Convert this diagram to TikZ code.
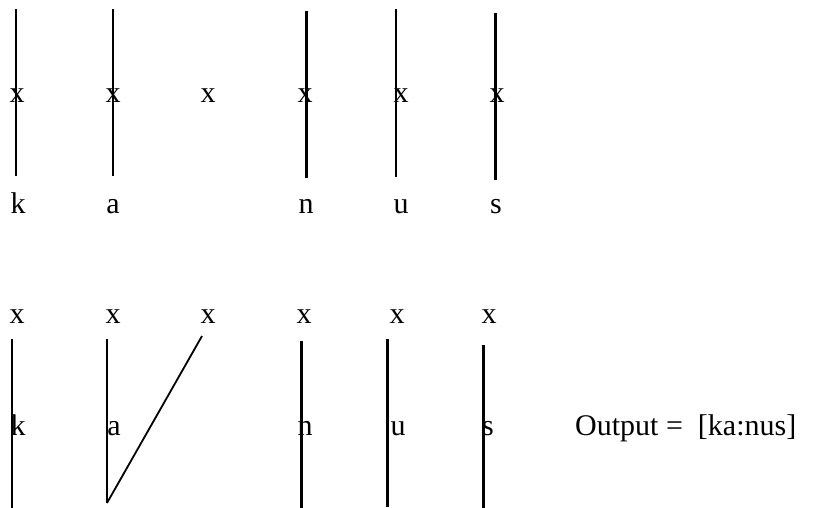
\documentclass[tikz,border=0pt]{standalone}
\usepackage{fontspec}
\setmainfont{Liberation Serif}
\begin{document}
\begin{tikzpicture}[x=1pt,y=-1pt,
  seg/.style={inner sep=0pt,anchor=base,font=\fontsize{30}{36}\selectfont},
  assoc/.style={line width=2.6pt},
  assocd/.style={line width=1.8pt}]
\useasboundingbox (0,0) rectangle (822,508);
% top panel
\node[seg] (tx1) at (17,103) {x};
\node[seg] (tx2) at (113,103) {x};
\node[seg] (tx3) at (208,103) {x};
\node[seg] (tx4) at (305,103) {x};
\node[seg] (tx5) at (401,103) {x};
\node[seg] (tx6) at (497,103) {x};
\node[seg] (tk) at (18,213) {k};
\node[seg] (ta) at (113,213) {a};
\node[seg] (tn) at (306,213) {n};
\node[seg] (tu) at (401,213) {u};
\node[seg] (ts) at (496,213) {s};
\coordinate (t1a) at (16,9);   \coordinate (t1b) at (16,176);
\coordinate (t2a) at (113,9);  \coordinate (t2b) at (113,176);
\coordinate (t4a) at (306.5,11); \coordinate (t4b) at (306.5,178);
\coordinate (t5a) at (396,9);  \coordinate (t5b) at (396,177);
\coordinate (t6a) at (495.5,13); \coordinate (t6b) at (495.5,180);
\draw[assoc] (t1a) -- (t1b);
\draw[assoc] (t2a) -- (t2b);
\draw[assoc] (t4a) -- (t4b);
\draw[assoc] (t5a) -- (t5b);
\draw[assoc] (t6a) -- (t6b);
% bottom panel
\node[seg] (bx1) at (17,323) {x};
\node[seg] (bx2) at (113,323) {x};
\node[seg] (bx3) at (208,323) {x};
\node[seg] (bx4) at (304,323) {x};
\node[seg] (bx5) at (397,323) {x};
\node[seg] (bx6) at (489,323) {x};
\node[seg] (bk) at (18,435) {k};
\node[seg] (ba) at (114,435) {a};
\node[seg] (bn) at (305,435) {n};
\node[seg] (bu) at (398,435) {u};
\node[seg] (bs) at (488,435) {s};
\node[seg,anchor=base west] (out) at (575,435) {Output =\ \ [ka:nus]};
\coordinate (b1a) at (12,339);  \coordinate (b1b) at (12,508);
\coordinate (b2a) at (107,339); \coordinate (b2b) at (107,503);
\coordinate (b3a) at (202,336);
\coordinate (b4a) at (301.5,341); \coordinate (b4b) at (301.5,508);
\coordinate (b5a) at (387.5,339); \coordinate (b5b) at (387.5,507);
\coordinate (b6a) at (483.5,345); \coordinate (b6b) at (483.5,508);
\draw[assoc] (b1a) -- (b1b);
\draw[assoc] (b2a) -- (b2b);
\draw[assocd] (b2b) -- (b3a);
\draw[assoc] (b4a) -- (b4b);
\draw[assoc] (b5a) -- (b5b);
\draw[assoc] (b6a) -- (b6b);
\end{tikzpicture}
\end{document}
